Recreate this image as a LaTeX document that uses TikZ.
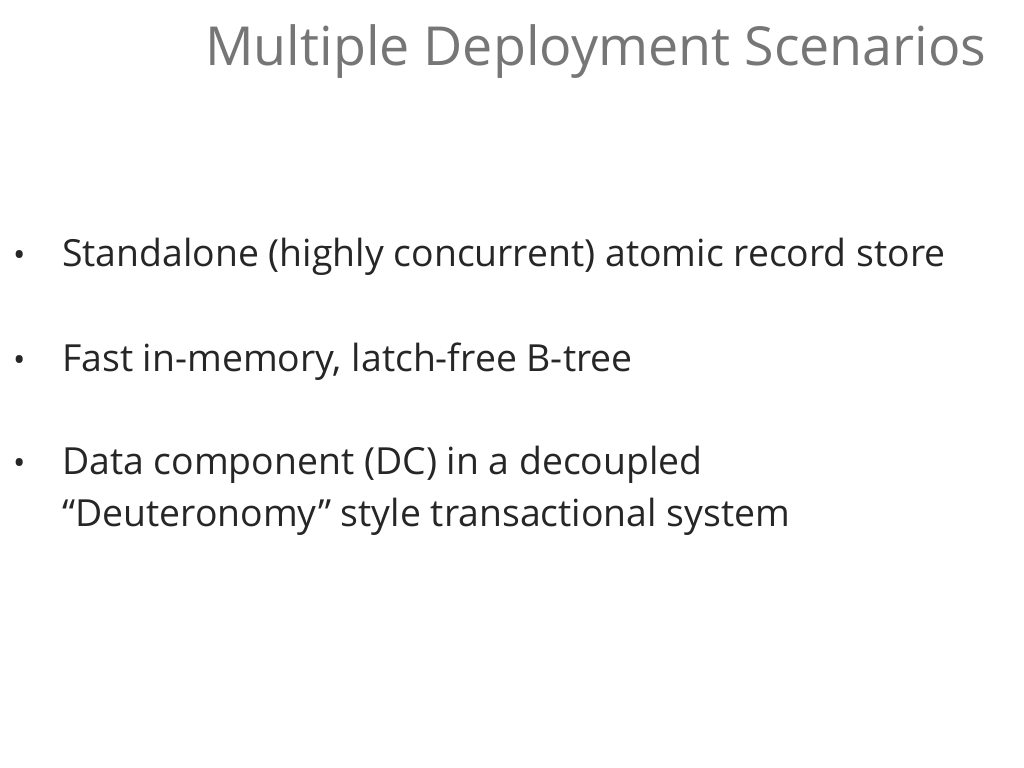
\documentclass[tikz,border=0pt]{standalone}
\usepackage{fontspec}
\setmainfont{Open Sans}
\definecolor{titlegray}{HTML}{767676}
\definecolor{bodytext}{HTML}{262626}
\begin{document}
\begin{tikzpicture}[x=1bp,y=-1bp,
  title/.style={anchor=base west,inner sep=0pt,text=titlegray,font=\fontsize{54}{60}\selectfont},
  body/.style={anchor=base west,inner sep=0pt,text=bodytext,font=\fontsize{37.5}{44}\selectfont},
  bul/.style={anchor=base west,inner sep=0pt,text=bodytext,font=\fontsize{33}{40}\selectfont}]
\useasboundingbox[fill=white] (0,0) rectangle (1024,768);
\node[title] (t) at (205,66) {Multiple Deployment Scenarios};
\node[bul] (b1) at (13,266) {•};
\node[body] (l1) at (62,266) {Standalone (highly concurrent) atomic record store};
\node[bul] (b2) at (13,371) {•};
\node[body] (l2) at (62,371) {Fast in-memory, latch-free B-tree};
\node[bul] (b3) at (13,474) {•};
\node[body] (l3) at (62,474) {Data component (DC) in a decoupled};
\node[body] (l4) at (62,526) {“Deuteronomy” style transactional system};
\end{tikzpicture}
\end{document}
